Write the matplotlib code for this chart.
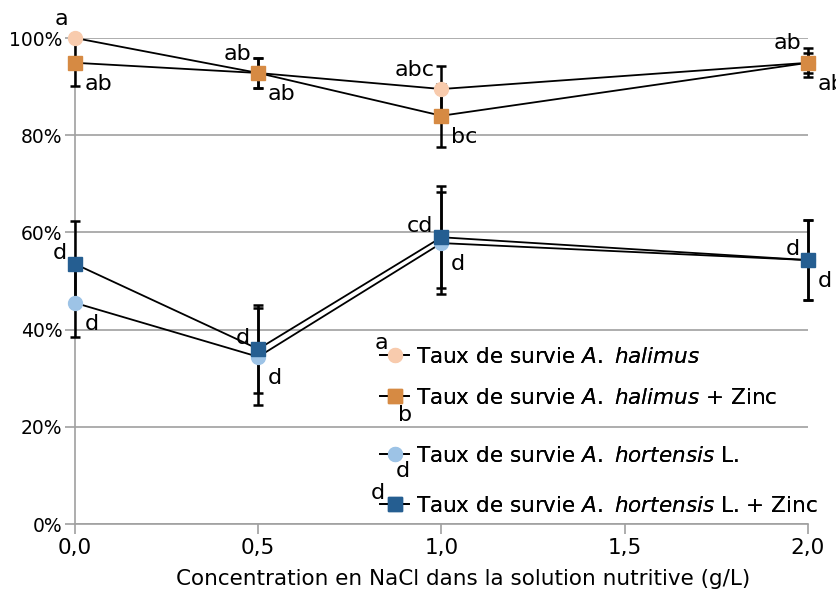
import matplotlib
matplotlib.use("Agg")
import matplotlib.pyplot as plt
from matplotlib.ticker import FuncFormatter

# ---- data ----
nacl = [0.0, 0.5, 1.0, 2.0]
halimus = [1.000, 0.928, 0.895, 0.949]
halimus_err = [0.0, 0.030, 0.047, 0.020]
halimus_zn = [0.949, 0.928, 0.840, 0.949]
halimus_zn_err = [0.047, 0.030, 0.065, 0.030]
hortensis = [0.455, 0.344, 0.578, 0.543]
hortensis_err = [0.070, 0.100, 0.105, 0.082]
hortensis_zn = [0.535, 0.360, 0.590, 0.543]
hortensis_zn_err = [0.089, 0.090, 0.105, 0.082]

# significance letters per point
letters_top = ["a", "ab", "abc", "ab"]          # A. halimus (above-left)
letters_top_zn = ["ab", "ab", "bc", "ab"]       # A. halimus + Zinc (below-right)
letters_bot_zn = ["d", "d", "cd", "d"]          # A. hortensis + Zinc (above-left)
letters_bot = ["d", "d", "d", "d"]              # A. hortensis (below-right)

series_names = ["Taux de survie $\\mathit{A.}$ $\\mathit{halimus}$",
                "Taux de survie $\\mathit{A.}$ $\\mathit{halimus}$ + Zinc",
                "Taux de survie $\\mathit{A.}$ $\\mathit{hortensis}$ L.",
                "Taux de survie $\\mathit{A.}$ $\\mathit{hortensis}$ L. + Zinc"]
legend_letters = ["a", "b", "d", "d"]

x_ticks = [0.0, 0.5, 1.0, 1.5, 2.0]
y_ticks = [0.0, 0.2, 0.4, 0.6, 0.8, 1.0]
x_label = "Concentration en NaCl dans la solution nutritive (g/L)"

# ---- style ----
c_hal = "#F8CBAD"
c_hal_zn = "#D68A43"
c_hor = "#9DC3E6"
c_hor_zn = "#255E91"
W, H = 837, 589

plt.rcParams['font.family'] = ['DejaVu Sans']
plt.rcParams['mathtext.fontset'] = 'dejavusans'
fig = plt.figure(figsize=(W / 100, H / 100), dpi=100)
ax = fig.add_axes([75 / W, 1 - 524 / H, (808 - 75) / W, (524 - 38) / H])

ax.set_xlim(0, 2)
ax.set_ylim(0, 1)
ax.set_xticks(x_ticks)
ax.set_yticks(y_ticks)
ax.xaxis.set_major_formatter(FuncFormatter(lambda v, p: f"{v:.1f}".replace(".", ",")))
ax.yaxis.set_major_formatter(FuncFormatter(lambda v, p: f"{v*100:.0f}%"))
ax.tick_params(axis='both', length=7, color="#A0A0A0", width=1.2, pad=2)
ax.tick_params(axis='x', labelsize=15.5, pad=3)
ax.tick_params(axis='y', labelsize=13.5)
ax.grid(axis='y', color="#A0A0A0", linewidth=1.2)
ax.set_axisbelow(True)
for s in ["top", "right"]:
    ax.spines[s].set_visible(False)
for s in ["left", "bottom"]:
    ax.spines[s].set_color("#A0A0A0")
    ax.spines[s].set_linewidth(1.2)
ax.set_xlabel(x_label, fontsize=15.5)
ax.xaxis.set_label_coords(0.53, -0.092)

series = [
    (halimus, halimus_err, c_hal, "o", 10),
    (halimus_zn, halimus_zn_err, c_hal_zn, "s", 9.5),
    (hortensis, hortensis_err, c_hor, "o", 10),
    (hortensis_zn, hortensis_zn_err, c_hor_zn, "s", 9.5),
]
handles = []
for vals, err, col, mk, ms in series:
    ax.errorbar(nacl, vals, yerr=err, fmt="none", ecolor="black", elinewidth=1.8,
                capsize=3.8, capthick=1.8, zorder=3, clip_on=False)
    h, = ax.plot(nacl, vals, color="black", linewidth=1.3, marker=mk, markersize=ms,
                 markerfacecolor=col, markeredgecolor=col, zorder=4, clip_on=False)
    handles.append(h)

def annotate(vals, labels, dx, dy, ha):
    for xv, yv, lab in zip(nacl, vals, labels):
        ax.annotate(lab, (xv, yv), xytext=(dx, dy), textcoords="offset points",
                    ha=ha, va="center", fontsize=16, annotation_clip=False, zorder=5)

annotate(halimus, letters_top, -5, 14, "right")
annotate(halimus_zn, letters_top_zn, 7, -15, "left")
annotate(hortensis_zn, letters_bot_zn, -6, 8, "right")
annotate(hortensis, letters_bot, 7, -15, "left")

# legends (four single-entry legends, unevenly spaced like the reference)
leg_rows = [357, 398, 456, 506]
leg_letter_off = [(-14, -14), (10, 17), (8, 15), (-17, -13)]
for h, name, yrow, lab, (lx, ly) in zip(handles, series_names, leg_rows, legend_letters, leg_letter_off):
    leg = fig.legend([h], [name], loc="center left",
                     bbox_to_anchor=(380 / W, 1 - yrow / H), frameon=False,
                     fontsize=15.5, handlelength=1.35, handletextpad=0.3,
                     borderpad=0, borderaxespad=0)
    fig.add_artist(leg)
    fig.text((395 + lx) / W, 1 - (yrow + ly) / H, lab, fontsize=16,
             ha="center", va="center")

fig.savefig("out.png", dpi=100)
